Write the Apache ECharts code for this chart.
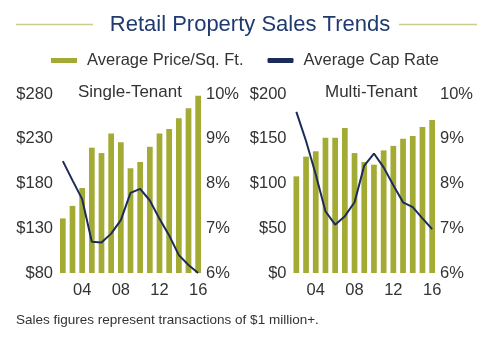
<!DOCTYPE html>
<html>
<head>
<meta charset="utf-8">
<script src="https://cdn.jsdelivr.net/npm/echarts@6/dist/echarts.min.js"></script>
<style>
html,body{margin:0;padding:0;background:#fff;}
#chart{width:500px;height:361px;}
</style>
</head>
<body>
<div id="chart"></div>
<script>
const years = ['02','03','04','05','06','07','08','09','10','11','12','13','14','15','16'];
const xTickLabels = ['04','08','12','16'];
const singlePrice = [141,155,175,220,214,236,226,197,204,221,236,241,253,264,278];
const singleCap = [8.5,8.07,7.65,6.7,6.68,6.88,7.18,7.79,7.88,7.62,7.21,6.84,6.4,6.18,6.0];
const multiPrice = [108,130,136,151,151,162,134,124,121,137,142,150,153,163,171];
const multiCap = [9.6,8.95,8.2,7.38,7.08,7.27,7.58,8.4,8.67,8.36,7.96,7.58,7.47,7.22,6.98];
const singlePriceTicks = [80,280,50];
const multiPriceTicks = [0,200,50];
const capTicks = [6,10,1];

const BAR = '#a3ab35';
const LINE = '#1c2b58';
const TXT = '#333333';
const FONT = 'Liberation Sans, Arial, sans-serif';
const FS = 16.5;

const chart = echarts.init(document.getElementById('chart'));

function xAxis(gi){
  return {
    type:'category', gridIndex:gi, data:years,
    axisLine:{show:false}, axisTick:{show:false},
    axisLabel:{
      interval:0, margin:9, color:TXT, fontSize:FS, fontFamily:FONT,
      formatter:(v)=> xTickLabels.indexOf(v)>=0 ? v : ''
    }
  };
}
function yAxis(gi, pos, t, fmt){
  return {
    type:'value', gridIndex:gi, position:pos,
    min:t[0], max:t[1], interval:t[2],
    splitLine:{show:false}, axisLine:{show:false}, axisTick:{show:false},
    axisLabel:{color:TXT, fontSize:FS, fontFamily:FONT, margin:pos==='left'?5:3, formatter:fmt}
  };
}

chart.setOption({
  animation:false,
  backgroundColor:'#fff',
  title:[
    {text:'Retail Property Sales Trends', left:'center', top:9,
     textStyle:{color:'#1f3a6f', fontSize:22, fontWeight:'normal', fontFamily:FONT}},
    {text:'Single-Tenant', left:73, top:79,
     textStyle:{color:TXT, fontSize:17, fontWeight:'normal', fontFamily:FONT}},
    {text:'Multi-Tenant', left:320, top:79,
     textStyle:{color:TXT, fontSize:17, fontWeight:'normal', fontFamily:FONT}}
  ],
  legend:{
    left:51, top:52, padding:0, itemWidth:26, itemHeight:5, itemGap:24,
    textStyle:{color:TXT, fontSize:FS, fontFamily:FONT, padding:[0,0,0,5]},
    data:[
      {name:'Average Price/Sq. Ft.', icon:'rect'},
      {name:'Average Cap Rate', icon:'roundRect'}
    ]
  },
  graphic:[
    {type:'line', shape:{x1:16,y1:24.5,x2:93,y2:24.5}, style:{stroke:'#c9cc8e', lineWidth:1.5}},
    {type:'line', shape:{x1:399,y1:24.5,x2:477,y2:24.5}, style:{stroke:'#c9cc8e', lineWidth:1.5}},
    {type:'text', left:16, top:313, style:{text:'Sales figures represent transactions of $1 million+.', fill:TXT, font:'13.5px '+FONT}}
  ],
  grid:[
    {left:58, top:94, width:145, height:179},
    {left:291.5, top:94, width:145.5, height:179}
  ],
  xAxis:[xAxis(0), xAxis(1)],
  yAxis:[
    yAxis(0,'left',singlePriceTicks,'${value}'),
    yAxis(0,'right',capTicks,'{value}%'),
    yAxis(1,'left',multiPriceTicks,'${value}'),
    yAxis(1,'right',capTicks,'{value}%')
  ],
  series:[
    {name:'Average Price/Sq. Ft.', type:'bar', xAxisIndex:0, yAxisIndex:0, data:singlePrice,
     barCategoryGap:'41%', itemStyle:{color:BAR}},
    {name:'Average Cap Rate', type:'line', xAxisIndex:0, yAxisIndex:1, data:singleCap,
     showSymbol:false, symbol:'none', lineStyle:{color:LINE, width:2}, itemStyle:{color:LINE}},
    {name:'Average Price/Sq. Ft.', type:'bar', xAxisIndex:1, yAxisIndex:2, data:multiPrice,
     barCategoryGap:'41%', itemStyle:{color:BAR}},
    {name:'Average Cap Rate', type:'line', xAxisIndex:1, yAxisIndex:3, data:multiCap,
     showSymbol:false, symbol:'none', lineStyle:{color:LINE, width:2}, itemStyle:{color:LINE}}
  ]
});
</script>
</body>
</html>
